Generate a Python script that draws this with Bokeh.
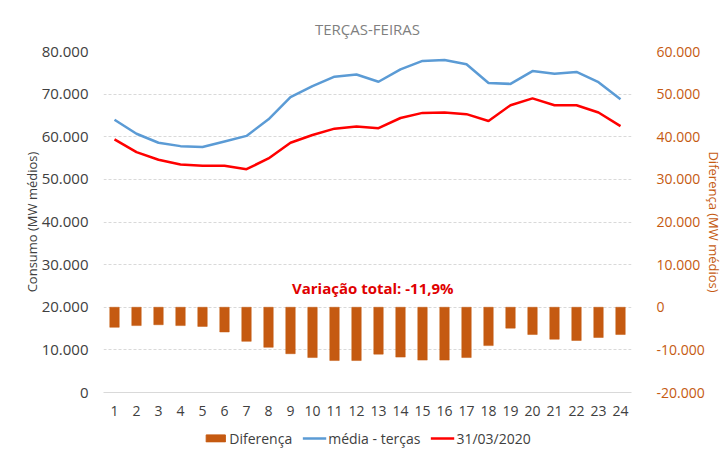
from bokeh.plotting import figure
from bokeh.layouts import column
from bokeh.models import (Range1d, LinearAxis, FixedTicker, Legend, LegendItem, Label)
from bokeh.embed import file_html
from bokeh.resources import INLINE

# ---- data ----
hours = list(range(1, 25))
media_tercas = [64000, 60700, 58600, 57800, 57600, 58900, 60200, 64100, 69300, 71900, 74100, 74600,
                72900, 75800, 77800, 78000, 77000, 72600, 72400, 75400, 74800, 75200, 72800, 68800]
dia_31_03 = [59400, 56400, 54600, 53500, 53200, 53200, 52400, 54900, 58600, 60400, 61900, 62400,
             62000, 64400, 65600, 65700, 65300, 63700, 67400, 69000, 67400, 67400, 65700, 62500]
diferenca = [-4700, -4300, -4100, -4300, -4500, -5800, -8000, -9400, -10900, -11800, -12500, -12500,
             -11000, -11700, -12400, -12400, -11800, -9000, -4900, -6400, -7500, -7800, -7100, -6400]

left_ticks = [0, 10000, 20000, 30000, 40000, 50000, 60000, 70000, 80000]
left_labels = ["0", "10.000", "20.000", "30.000", "40.000", "50.000", "60.000", "70.000", "80.000"]
right_ticks = [-20000, -10000, 0, 10000, 20000, 30000, 40000, 50000, 60000]
right_labels = ["-20.000", "-10.000", "0", "10.000", "20.000", "30.000", "40.000", "50.000", "60.000"]

title_text = "TERÇAS-FEIRAS"
left_title = "Consumo (MW médios)"
right_title = "Diferença (MW médios)"
note_text = "Variação total: -11,9%"
series_names = ["Diferença", "média - terças", "31/03/2020"]

FONT = "Open Sans"
C_BAR = "#C55A11"
C_BLUE = "#5B9BD5"
C_RED = "#FF0000"
C_TXT = "#404040"

p = figure(width=725, height=424, output_backend="svg", toolbar_location=None,
           x_range=Range1d(0.5, 24.5), y_range=Range1d(0, 80000),
           min_border_left=103, min_border_right=81, min_border_top=51, min_border_bottom=32,
           title=title_text)
p.outline_line_color = None
p.background_fill_color = "white"
p.border_fill_color = "white"

p.title.align = "center"
p.title.text_font = FONT
p.title.text_font_size = "15px"
p.title.text_font_style = "normal"
p.title.text_color = "#7F7F7F"
p.title.standoff = 25

p.extra_y_ranges = {"dif": Range1d(-20000, 60000)}

# grid
p.xgrid.grid_line_color = None
p.ygrid.grid_line_color = "#D9D9D9"
p.ygrid.grid_line_dash = "3 2"
p.ygrid.ticker = FixedTicker(ticks=left_ticks)

# x axis
xa = p.xaxis[0]
xa.ticker = FixedTicker(ticks=hours)
xa.major_tick_line_color = None
xa.minor_tick_line_color = None
xa.axis_line_color = "#D9D9D9"
xa.major_label_text_font = FONT
xa.major_label_text_font_size = "14px"
xa.major_label_text_color = C_TXT
xa.major_label_standoff = 7

# left axis
ya = p.yaxis[0]
ya.ticker = FixedTicker(ticks=left_ticks)
ya.major_label_overrides = {t: l for t, l in zip(left_ticks, left_labels)}
ya.major_tick_line_color = None
ya.minor_tick_line_color = None
ya.axis_line_color = None
ya.major_label_text_font = FONT
ya.major_label_text_font_size = "15px"
ya.major_label_text_color = C_TXT
ya.major_label_standoff = 9
ya.axis_label = left_title
ya.axis_label_text_font = FONT
ya.axis_label_text_font_size = "13px"
ya.axis_label_text_font_style = "normal"
ya.axis_label_text_color = C_TXT
ya.axis_label_standoff = -2

# right axis
ra = LinearAxis(y_range_name="dif", ticker=FixedTicker(ticks=right_ticks))
ra.major_label_overrides = {t: l for t, l in zip(right_ticks, right_labels)}
ra.major_tick_line_color = None
ra.minor_tick_line_color = None
ra.axis_line_color = None
ra.major_label_text_font = FONT
ra.major_label_text_font_size = "14px"
ra.major_label_text_color = C_BAR
ra.major_label_standoff = 19
ra.axis_label = right_title
ra.axis_label_text_font = FONT
ra.axis_label_text_font_size = "13px"
ra.axis_label_text_font_style = "normal"
ra.axis_label_text_color = C_BAR
ra.axis_label_standoff = -3
p.add_layout(ra, "right")

# glyphs
bars = p.vbar(x=hours, top=[0] * len(hours), bottom=diferenca, width=0.43,
              y_range_name="dif", fill_color=C_BAR, line_color=C_BAR, line_width=0.5)
l_blue = p.line(hours, media_tercas, line_color=C_BLUE, line_width=2.5)
l_red = p.line(hours, dia_31_03, line_color=C_RED, line_width=2.5)

note = Label(x=12.74, y=24400, text=note_text, text_align="center", text_baseline="middle",
             text_font=FONT, text_font_size="15px", text_font_style="bold", text_color="#E00000")
p.add_layout(note)

# legend strip: separate figure below the chart; same series, drawn outside its visible range
pl = figure(width=725, height=28, output_backend="svg", toolbar_location=None,
            x_axis_type=None, y_axis_type=None, min_border=0,
            x_range=Range1d(100, 101), y_range=Range1d(0, 1))
pl.outline_line_color = None
pl.xgrid.grid_line_color = None
pl.ygrid.grid_line_color = None
lb = pl.vbar(x=hours, top=[0] * len(hours), bottom=diferenca, width=0.43,
             fill_color=C_BAR, line_color=C_BAR)
ll1 = pl.line(hours, media_tercas, line_color=C_BLUE, line_width=2.5)
ll2 = pl.line(hours, dia_31_03, line_color=C_RED, line_width=2.5)
legend = Legend(items=[LegendItem(label=series_names[0], renderers=[lb]),
                       LegendItem(label=series_names[1], renderers=[ll1]),
                       LegendItem(label=series_names[2], renderers=[ll2])],
                orientation="horizontal", location="center",
                label_text_font=FONT, label_text_font_size="14px", label_text_color=C_TXT,
                glyph_width=24, glyph_height=9, label_standoff=2, spacing=10,
                padding=0, margin=0, border_line_color=None, background_fill_alpha=0)
pl.add_layout(legend)

layout = column(p, pl, spacing=0)
open("out.html", "w").write(file_html(layout, INLINE))
